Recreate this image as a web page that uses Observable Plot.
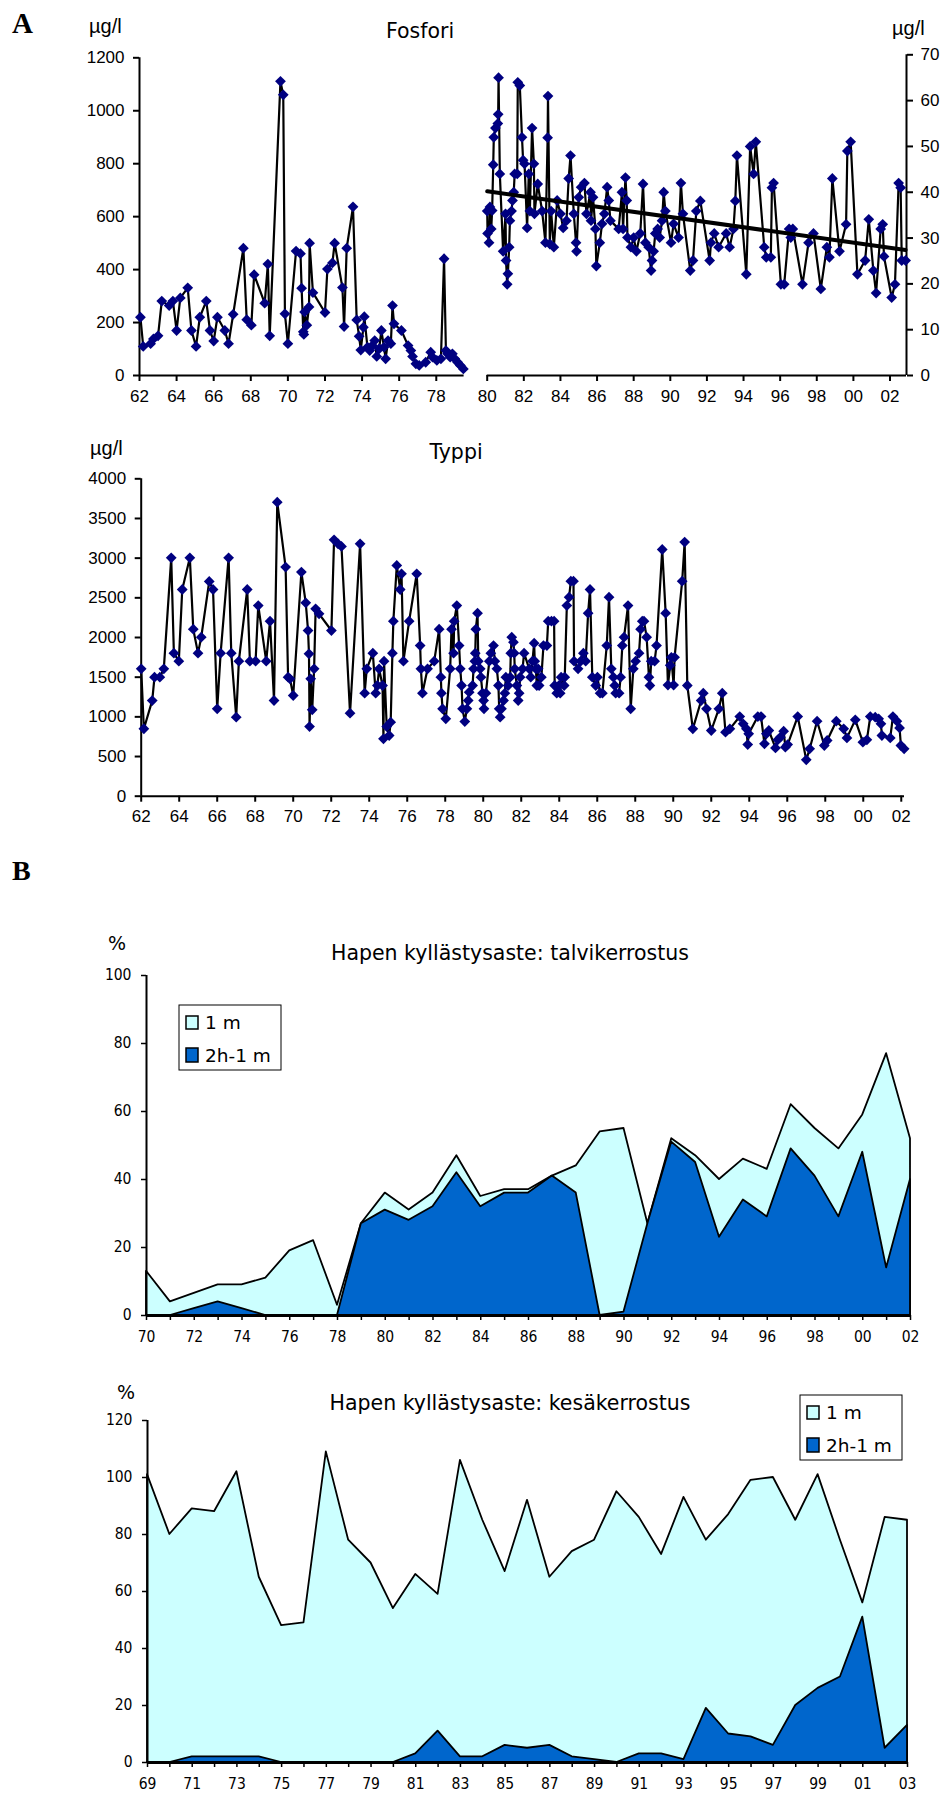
<!DOCTYPE html>
<html><head><meta charset="utf-8">
<script src="https://cdn.jsdelivr.net/npm/d3@7"></script>
<script src="https://cdn.jsdelivr.net/npm/@observablehq/plot@0.6"></script>
<style>
body{margin:0;background:#fff;}
#page{position:relative;width:941px;height:1794px;overflow:hidden;background:#fff;}
.pl{position:absolute;}
#overlay{position:absolute;left:0;top:0;pointer-events:none;}
</style></head>
<body><div id="page"></div>
<script>
// ---------- DATA ----------
// Fosfori 1962–1979 (µg/l, left axis)
const fosforiEarly = [
[1962.05,220],[1962.2,110],[1962.6,120],[1962.75,138],[1963.0,150],[1963.2,281],[1963.6,264],[1963.8,281],[1964.0,170],[1964.2,293],
[1964.6,331],[1964.8,170],[1965.05,110],[1965.25,220],[1965.6,281],[1965.8,170],[1966.0,130],[1966.2,220],[1966.6,170],[1966.8,120],
[1967.05,231],[1967.6,481],[1967.78,211],[1968.03,190],[1968.18,381],[1968.75,273],[1968.92,421],[1969.02,150],[1969.6,1111],[1969.75,1060],
[1969.84,233],[1970.0,120],[1970.44,470],[1970.68,460],[1970.74,330],[1970.83,165],[1970.86,155],[1970.9,240],[1971.02,190],[1971.14,259],
[1971.17,500],[1971.35,313],[1972.0,238],[1972.13,402],[1972.4,425],[1972.52,500],[1972.94,332],[1973.03,185],[1973.17,481],[1973.51,637],
[1973.71,210],[1973.84,148],[1973.93,96],[1974.07,182],[1974.12,222],[1974.29,107],[1974.41,94],[1974.55,113],[1974.68,132],[1974.79,72],
[1974.92,101],[1975.04,170],[1975.18,107],[1975.27,63],[1975.4,132],[1975.55,120],[1975.64,264],[1975.72,195],[1976.12,170],[1976.48,113],
[1976.63,94],[1976.72,72],[1976.9,44],[1977.08,38],[1977.43,50],[1977.7,88],[1977.8,69],[1978.03,57],[1978.25,63],[1978.42,441],
[1978.52,94],[1978.61,82],[1978.75,69],[1978.87,82],[1979.0,63],[1979.15,50],[1979.3,38],[1979.46,25]
];
// Fosfori 1980–2002 (µg/l, right axis)
const fosforiLate = [
[1980.0,35.9],[1980.02,31],[1980.1,29],[1980.15,36.8],[1980.22,32],[1980.27,36],[1980.33,46],[1980.36,52],[1980.45,54],[1980.58,55],
[1980.6,57],[1980.62,65],[1980.69,44],[1980.87,27.1],[1981.0,35.3],[1981.03,25.1],[1981.09,19.9],[1981.13,22.2],[1981.2,28],[1981.24,33.8],
[1981.33,35.9],[1981.38,38.2],[1981.45,40],[1981.5,44],[1981.64,44],[1981.67,64],[1981.78,63.3],[1981.9,52],[1981.96,47],[1982.04,46.2],
[1982.18,32.2],[1982.27,44],[1982.33,35.9],[1982.45,54],[1982.55,46.2],[1982.58,35.3],[1982.76,41.8],[1983.0,35.9],[1983.18,29],[1983.3,51.9],
[1983.32,61],[1983.42,28.7],[1983.49,35.9],[1983.64,28],[1983.82,38.2],[1984.0,35.3],[1984.15,32.2],[1984.33,33.8],[1984.45,43],[1984.55,48],
[1984.73,35.3],[1984.85,29],[1984.88,27.1],[1985.0,38.9],[1985.13,41.1],[1985.31,42],[1985.42,35.3],[1985.64,40],[1985.67,33.8],[1985.78,38.9],
[1985.91,32],[1985.96,23.9],[1986.15,29],[1986.27,33.1],[1986.4,35.3],[1986.55,41.1],[1986.64,38.2],[1986.73,33.8],[1987.18,32],[1987.36,40],
[1987.42,32],[1987.55,43.2],[1987.62,38.2],[1987.66,30.1],[1987.85,28],[1988.0,30.1],[1988.15,27.1],[1988.36,31],[1988.51,41.8],[1988.64,29],
[1988.82,28],[1988.95,22.9],[1989.0,25.1],[1989.09,27.1],[1989.18,31],[1989.31,32],[1989.42,30.1],[1989.55,33.8],[1989.64,40],[1989.73,35.9],
[1990.04,29],[1990.18,33.1],[1990.45,30.1],[1990.58,42],[1990.69,35.3],[1991.09,22.9],[1991.24,25.1],[1991.42,35.9],[1991.64,38.1],[1992.15,25.1],
[1992.22,29],[1992.4,31],[1992.64,28],[1993.05,31],[1993.24,28],[1993.45,32],[1993.55,38.1],[1993.64,48],[1994.15,22.1],[1994.36,50],
[1994.55,44],[1994.67,51],[1995.13,28],[1995.24,25.8],[1995.49,25.8],[1995.55,41],[1995.64,42],[1996.04,19.9],[1996.22,19.9],[1996.49,32],
[1996.58,30.1],[1996.69,32],[1997.22,19.9],[1997.55,29],[1997.82,31],[1998.22,18.9],[1998.55,28],[1998.69,25.8],[1998.85,43],[1999.24,27.1],
[1999.6,33],[1999.67,49],[1999.85,51],[2000.22,22.1],[2000.64,25.1],[2000.84,34.1],[2001.09,22.9],[2001.24,18],[2001.49,32],[2001.6,33],
[2001.67,26],[2002.09,17],[2002.27,19.9],[2002.47,42],[2002.58,41],[2002.64,25.1],[2002.85,25.1]
];
// Fosfori trend line end points
const fosforiTrend = [[1980.0,40.2],[2002.85,27.4]];

// Typpi 1962–2002 (µg/l)
const typpi = [
[1962.0,1605],[1962.14,850],[1962.58,1205],[1962.7,1500],[1962.98,1500],[1963.19,1605],[1963.58,3004],[1963.72,1803],[1963.98,1702],[1964.16,2605],
[1964.56,3004],[1964.74,2105],[1964.99,1803],[1965.16,2004],[1965.58,2706],[1965.78,2605],[1966.0,1101],[1966.18,1803],[1966.6,3004],[1966.74,1803],
[1967.0,996],[1967.14,1702],[1967.58,2605],[1967.72,1702],[1968.02,1702],[1968.16,2403],[1968.58,1702],[1968.78,2206],[1968.99,1206],[1969.16,3706],
[1969.6,2887],[1969.73,1500],[1969.83,1479],[1970.0,1269],[1970.43,2824],[1970.66,2437],[1970.78,2088],[1970.83,1794],[1970.86,878],[1970.92,1479],
[1971.0,1088],[1971.1,1605],[1971.18,2361],[1971.36,2298],[1972.01,2088],[1972.15,3231],[1972.36,3181],[1972.54,3147],[1972.99,1046],[1973.52,3181],
[1973.76,1298],[1973.87,1605],[1974.19,1803],[1974.34,1298],[1974.43,1395],[1974.52,1605],[1974.7,1395],[1974.75,723],[1974.78,1702],[1974.92,878],
[1975.05,765],[1975.13,933],[1975.22,1803],[1975.27,2206],[1975.45,2908],[1975.63,2605],[1975.7,2803],[1975.8,1702],[1976.1,2206],[1976.5,2803],
[1976.68,1899],[1976.72,1605],[1976.8,1298],[1977.07,1605],[1977.42,1702],[1977.68,2105],[1977.77,1500],[1977.8,1298],[1977.86,1101],[1978.03,975],
[1978.26,1605],[1978.33,2105],[1978.44,1803],[1978.47,2206],[1978.61,2403],[1978.73,1899],[1978.79,1605],[1978.86,1395],[1978.91,1101],[1979.03,940],
[1979.14,1101],[1979.21,1206],[1979.26,1311],[1979.44,1395],[1979.49,1605],[1979.56,1702],[1979.58,1803],[1979.61,2105],[1979.7,2307],[1979.74,1702],
[1979.84,1605],[1979.88,1500],[1979.96,1298],[1980.02,1206],[1980.04,1101],[1980.14,1298],[1980.32,1702],[1980.4,1803],[1980.54,1899],[1980.61,1702],
[1980.72,1605],[1980.8,1395],[1980.84,1101],[1980.89,996],[1980.96,1101],[1981.07,1206],[1981.14,1298],[1981.19,1500],[1981.31,1395],[1981.42,1500],
[1981.45,1803],[1981.5,2004],[1981.59,1941],[1981.63,1803],[1981.66,1605],[1981.77,1395],[1981.84,1206],[1981.89,1298],[1981.94,1500],[1982.07,1605],
[1982.15,1803],[1982.42,1605],[1982.5,1500],[1982.59,1702],[1982.68,1929],[1982.71,1702],[1982.77,1605],[1982.82,1395],[1982.89,1605],[1982.94,1395],
[1983.06,1500],[1983.17,1899],[1983.35,1899],[1983.42,2206],[1983.59,2206],[1983.73,2206],[1983.76,1395],[1983.87,1298],[1983.99,1395],[1984.05,1298],
[1984.1,1500],[1984.26,1395],[1984.29,1500],[1984.4,2403],[1984.52,2508],[1984.61,2710],[1984.75,2710],[1984.78,1702],[1984.99,1605],[1985.13,1702],
[1985.27,1803],[1985.39,1702],[1985.52,2307],[1985.62,2605],[1985.74,1500],[1985.92,1395],[1986.01,1500],[1986.15,1298],[1986.27,1298],[1986.5,1899],
[1986.62,2508],[1986.74,1605],[1986.85,1500],[1986.92,1395],[1986.97,1298],[1987.15,1298],[1987.23,1500],[1987.32,1899],[1987.41,2004],[1987.62,2403],
[1987.76,1101],[1987.9,1605],[1988.02,1702],[1988.2,1803],[1988.28,2105],[1988.37,2206],[1988.46,2206],[1988.6,2004],[1988.72,1500],[1988.77,1395],
[1988.84,1702],[1989.02,1702],[1989.12,1899],[1989.42,3109],[1989.6,2307],[1989.72,1400],[1989.84,1650],[1989.9,1750],[1990.02,1400],[1990.07,1750],
[1990.47,2710],[1990.6,3202],[1990.74,1395],[1991.03,849],[1991.47,1206],[1991.58,1298],[1991.75,1101],[1992.0,828],[1992.4,1101],[1992.58,1298],
[1992.75,807],[1992.98,849],[1993.5,1004],[1993.68,912],[1993.85,849],[1993.92,651],[1993.97,786],[1994.45,1004],[1994.62,1004],[1994.8,660],
[1994.9,786],[1995.03,828],[1995.38,609],[1995.5,710],[1995.64,744],[1995.81,819],[1995.9,618],[1996.02,651],[1996.55,1004],[1997.0,458],
[1997.18,597],[1997.57,945],[1997.95,639],[1998.1,702],[1998.58,945],[1998.97,849],[1999.14,735],[1999.58,962],[1999.98,681],[2000.19,710],
[2000.37,1004],[2000.63,996],[2000.81,975],[2000.93,912],[2000.98,765],[2001.42,735],[2001.56,1004],[2001.77,945],[2001.91,861],[2001.98,639],
[2002.15,597]
];

// Hapen kyllästysaste: talvikerrostus (%)
const winterYears = [1970,1971,1972,1973,1974,1975,1976,1977,1978,1979,1980,1981,1982,1983,1984,1985,1986,1987,1988,1989,1990,1991,1992,1993,1994,1995,1996,1997,1998,1999,2000,2001,2002];
const winter1m    = [13,4,6.5,9,9,11,19,22,3,27,36,31,36,47,35,37,37,41,44,54,55,27,52,47,40,46,43,62,55,49,59,77,52];
const winter2h    = [0,0,2,4,2,0,0,0,0,27,31,28,32,42,32,36,36,41,36,0,1,27,51,45,23,34,29,49,41,29,48,14,40];

// Hapen kyllästysaste: kesäkerrostus (%)
const summerYears = [1969,1970,1971,1972,1973,1974,1975,1976,1977,1978,1979,1980,1981,1982,1983,1984,1985,1986,1987,1988,1989,1990,1991,1992,1993,1994,1995,1996,1997,1998,1999,2000,2001,2002,2003];
const summer1m    = [101,80,89,88,102,65,48,49,109,78,70,54,66,59,106,85,67,92,65,74,78,95,86,73,93,78,87,99,100,85,101,78,56,86,85];
const summer2h    = [0,0,2,2,2,2,0,0,0,0,0,0,3,11,2,2,6,5,6,2,1,0,3,3,1,19,10,9,6,20,26,30,51,5,13];

// Axis ticks / domains
const fosforiEarlyDomain = [1962, 1979.5];
const fosforiLateDomain = [1980, 2002.9];
const fosforiEarlyTicks = [1962,1964,1966,1968,1970,1972,1974,1976,1978];
const fosforiLateTicks = [1980,1982,1984,1986,1988,1990,1992,1994,1996,1998,2000,2002];
const fosforiLeftTicks = [0,200,400,600,800,1000,1200];
const fosforiRightTicks = [0,10,20,30,40,50,60,70];
const typpiDomain = [1962, 2002.17];
const typpiXTicks = [1962,1964,1966,1968,1970,1972,1974,1976,1978,1980,1982,1984,1986,1988,1990,1992,1994,1996,1998,2000,2002];
const typpiYTicks = [0,500,1000,1500,2000,2500,3000,3500,4000];
const winterYTicks = [0,20,40,60,80,100];
const summerYTicks = [0,20,40,60,80,100,120];

const COL_LIGHT = "#CCFFFF", COL_DARK = "#0066CC", COL_MARK = "#000080";

// ---------- HELPERS ----------
const yy = d => String(Math.round(d) % 100).padStart(2, "0");
const plain = d => String(d);
const diamond = {draw(ctx, size){const h=Math.sqrt(size/2);ctx.moveTo(0,-h);ctx.lineTo(h,0);ctx.lineTo(0,h);ctx.lineTo(-h,0);ctx.closePath();}};
const objs = pts => pts.map(([year, v]) => ({year, v}));
const page = document.getElementById("page");
function place(svg, left, top, w) {
  const d = document.createElement("div");
  d.className = "pl"; d.style.left = left + "px"; d.style.top = top + "px"; d.style.width = w + "px";
  d.appendChild(svg); page.appendChild(d);
}
function thick(svg, w) {
  svg.querySelectorAll('g[aria-label*="axis"] line, g[aria-label*="axis"] path, g[aria-label*="tick"] path, g[aria-label*="tick"] line')
     .forEach(e => e.setAttribute("stroke-width", w));
}
const styleA = {background: "transparent", fontFamily: "'Liberation Sans', Arial, sans-serif", fontSize: "17px", color: "black", overflow: "visible"};
const styleB = {background: "transparent", fontFamily: "'DejaVu Sans Condensed', 'DejaVu Sans', sans-serif", fontSize: "15.5px", color: "black", overflow: "visible"};

// ---------- FOSFORI (left, 1962–79) ----------
const fE = objs(fosforiEarly);
const p1 = Plot.plot({
  width: 475, height: 400, marginLeft: 139, marginRight: 11.4, marginTop: 57.3, marginBottom: 25,
  style: styleA,
  x: {domain: fosforiEarlyDomain, ticks: fosforiEarlyTicks, tickFormat: yy, tickSize: 6, tickPadding: 8, label: null},
  y: {domain: [0, 1200], ticks: fosforiLeftTicks, tickFormat: plain, tickSize: 6, tickPadding: 9, label: null},
  marks: [
    Plot.ruleY([0], {stroke: "black", strokeWidth: 2}),
    Plot.ruleX([fosforiEarlyDomain[0]], {stroke: "black", strokeWidth: 2}),
    Plot.line(fE, {x: "year", y: "v", stroke: "black", strokeWidth: 2.2}),
    Plot.dot(fE, {x: "year", y: "v", symbol: diamond, r: 4.3, fill: COL_MARK, stroke: "none"})
  ]
});
thick(p1, 2); place(p1, 0, 0, 475);

// ---------- FOSFORI (right, 1980–02) ----------
const fL = objs(fosforiLate);
const fT = objs(fosforiTrend);
const p2 = Plot.plot({
  width: 466, height: 400, marginLeft: 11.7, marginRight: 35, marginTop: 54.3, marginBottom: 25,
  style: styleA,
  x: {domain: fosforiLateDomain, ticks: fosforiLateTicks, tickFormat: yy, tickSize: 6, tickPadding: 8, label: null},
  y: {domain: [0, 70], ticks: fosforiRightTicks, tickFormat: plain, axis: "right", tickSize: 6, tickPadding: 8, label: null},
  marks: [
    Plot.ruleY([0], {stroke: "black", strokeWidth: 2}),
    Plot.ruleX([fosforiLateDomain[1]], {stroke: "black", strokeWidth: 2}),
    Plot.line(fL, {x: "year", y: "v", stroke: "black", strokeWidth: 2.2}),
    Plot.dot(fL, {x: "year", y: "v", symbol: diamond, r: 4.3, fill: COL_MARK, stroke: "none"}),
    Plot.line(fT, {x: "year", y: "v", stroke: "black", strokeWidth: 4})
  ]
});
thick(p2, 2); place(p2, 475, 0, 466);

// ---------- TYPPI ----------
const tp = objs(typpi);
const p3 = Plot.plot({
  width: 941, height: 430, marginLeft: 140.7, marginRight: 37, marginTop: 78.3, marginBottom: 34.3,
  style: styleA,
  x: {domain: typpiDomain, ticks: typpiXTicks, tickFormat: yy, tickSize: 6, tickPadding: 8, label: null},
  y: {domain: [0, 4000], ticks: typpiYTicks, tickFormat: plain, tickSize: 6, tickPadding: 9, label: null},
  marks: [
    Plot.ruleY([0], {stroke: "black", strokeWidth: 2}),
    Plot.ruleX([typpiDomain[0]], {stroke: "black", strokeWidth: 2}),
    Plot.line(tp, {x: "year", y: "v", stroke: "black", strokeWidth: 2.2}),
    Plot.dot(tp, {x: "year", y: "v", symbol: diamond, r: 4.3, fill: COL_MARK, stroke: "none"})
  ]
});
thick(p3, 2); place(p3, 0, 400, 941);

// ---------- WINTER ----------
const winter = winterYears.map((year, i) => ({year, m1: winter1m[i], m2: winter2h[i]}));
const p4 = Plot.plot({
  width: 941, height: 420, marginLeft: 146, marginRight: 31, marginTop: 35, marginBottom: 45,
  style: styleB,
  x: {domain: [winterYears[0], winterYears[winterYears.length-1]], ticks: winterYears, tickFormat: d => d % 2 === 0 ? yy(d) : "", tickSize: 5, tickPadding: 10, label: null},
  y: {domain: [0, 100], ticks: winterYTicks, tickFormat: plain, tickSize: 5, tickPadding: 10, label: null},
  marks: [
    Plot.areaY(winter, {x: "year", y: "m1", fill: COL_LIGHT, stroke: "black", strokeWidth: 1.8}),
    Plot.areaY(winter, {x: "year", y: "m2", fill: COL_DARK, stroke: "black", strokeWidth: 1.8}),
    Plot.ruleX([winterYears[0]], {stroke: "black", strokeWidth: 2}),
    Plot.ruleY([0], {stroke: "black", strokeWidth: 3})
  ]
});
thick(p4, 1.5); place(p4, 0, 940, 941);

// ---------- SUMMER ----------
const summer = summerYears.map((year, i) => ({year, m1: summer1m[i], m2: summer2h[i]}));
const p5 = Plot.plot({
  width: 941, height: 414, marginLeft: 147, marginRight: 34, marginTop: 40, marginBottom: 32,
  style: styleB,
  x: {domain: [summerYears[0], summerYears[summerYears.length-1]], ticks: summerYears, tickFormat: d => d % 2 === 1 ? yy(d) : "", tickSize: 5, tickPadding: 10, label: null},
  y: {domain: [0, 120], ticks: summerYTicks, tickFormat: plain, tickSize: 5, tickPadding: 10, label: null},
  marks: [
    Plot.areaY(summer, {x: "year", y: "m1", fill: COL_LIGHT, stroke: "black", strokeWidth: 1.8}),
    Plot.areaY(summer, {x: "year", y: "m2", fill: COL_DARK, stroke: "black", strokeWidth: 1.8}),
    Plot.ruleX([summerYears[0]], {stroke: "black", strokeWidth: 2}),
    Plot.ruleY([0], {stroke: "black", strokeWidth: 3})
  ]
});
thick(p5, 1.5); place(p5, 0, 1380, 941);

// ---------- TITLES, UNITS, LEGENDS ----------
const SANS = "'Liberation Sans', Arial, sans-serif";
const DV = "'DejaVu Sans', Verdana, sans-serif";
const SERIF = "'Liberation Serif', 'Times New Roman', serif";
const t = (x, y, s, font, size, anchor = "start", weight = "normal") =>
  `<text x="${x}" y="${y}" font-family="${font}" font-size="${size}" text-anchor="${anchor}" font-weight="${weight}" fill="black">${s}</text>`;
function legend(x, y) {
  return `<rect x="${x}" y="${y}" width="102" height="65" fill="white" stroke="black" stroke-width="1"/>
  <rect x="${x+7}" y="${y+11}" width="12" height="13" fill="${COL_LIGHT}" stroke="black" stroke-width="1.5"/>
  ${t(x+26, y+24, "1 m", DV, 18.5)}
  <rect x="${x+7}" y="${y+43}" width="12" height="14" fill="${COL_DARK}" stroke="black" stroke-width="1.5"/>
  ${t(x+26, y+57, "2h-1 m", DV, 18.5)}`;
}
const ov = document.createElement("div");
ov.id = "overlay";
ov.innerHTML = `<svg width="941" height="1794" xmlns="http://www.w3.org/2000/svg">
  ${t(12, 33, "A", SERIF, 29, "start", "bold")}
  ${t(89, 33, "µg/l", SANS, 20)}
  ${t(420, 38, "Fosfori", DV, 20.5, "middle")}
  ${t(892, 35, "µg/l", SANS, 20)}
  ${t(90, 455, "µg/l", SANS, 20)}
  ${t(456, 459, "Typpi", DV, 20.5, "middle")}
  ${t(12, 880, "B", SERIF, 28, "start", "bold")}
  ${t(108, 950, "%", DV, 19)}
  ${t(510, 960, "Hapen kyllästysaste: talvikerrostus", DV, 20.5, "middle")}
  ${legend(179, 1005)}
  ${t(117, 1399, "%", DV, 19)}
  ${t(510, 1410, "Hapen kyllästysaste: kesäkerrostus", DV, 20.5, "middle")}
  ${legend(800, 1395)}
</svg>`;
page.appendChild(ov);
</script></body></html>
